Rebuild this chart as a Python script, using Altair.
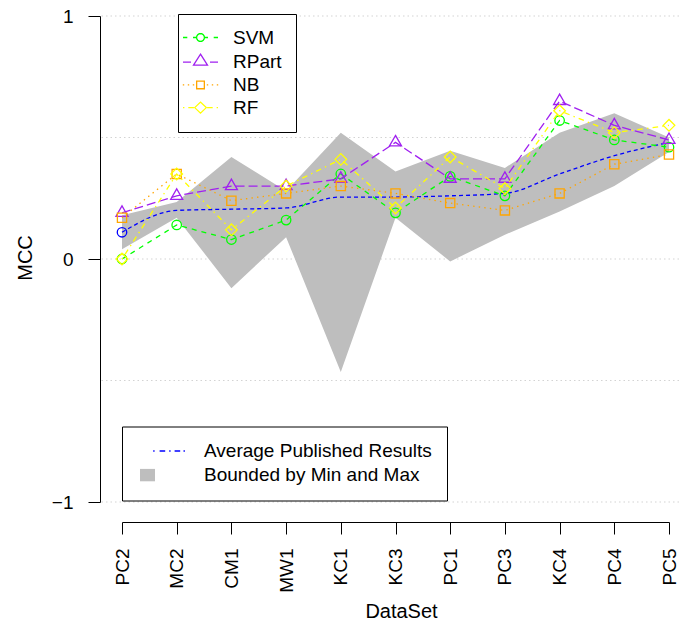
import math
import altair as alt
import pandas as pd

# ---------------- data ----------------
datasets = ["PC2", "MC2", "CM1", "MW1", "KC1", "KC3", "PC1", "PC3", "KC4", "PC4", "PC5"]
svm = [0.00, 0.14, 0.08, 0.16, 0.35, 0.19, 0.34, 0.26, 0.57, 0.49, 0.46]
rpart = [0.19, 0.26, 0.30, 0.30, 0.33, 0.48, 0.33, 0.33, 0.65, 0.55, 0.49]
nb = [0.17, 0.35, 0.24, 0.27, 0.30, 0.27, 0.23, 0.20, 0.27, 0.39, 0.43]
rf = [0.00, 0.35, 0.12, 0.30, 0.41, 0.21, 0.42, 0.29, 0.61, 0.52, 0.55]
avg = [0.11, 0.20, 0.205, 0.21, 0.255, 0.255, 0.26, 0.27, 0.35, 0.425, 0.48]
band_min = [0.04, 0.17, -0.12, 0.09, -0.465, 0.17, -0.01, 0.10, 0.195, 0.30, 0.44]
band_max = [0.18, 0.235, 0.42, 0.28, 0.52, 0.36, 0.445, 0.375, 0.52, 0.60, 0.50]

models = ["SVM", "RPart", "NB", "RF"]
kinds = ["Average Published Results", "Bounded by Min and Max"]
y_ticks = [-1, 0, 1]
grid_values = [-1, -0.5, 0, 0.5, 1]

# ---------------- styles ----------------
FONT = "Liberation Sans"
model_colors = ["#00FF00", "#A020F0", "#FFA500", "#FFFF00"]
model_dashes = [[5, 5], [9, 4], [1.4, 4.2], [1.4, 4.2, 5.6, 4.2]]
TRI = "M0,-1.155L1,0.577L-1,0.577Z"
model_shapes = ["circle", TRI, "square", "diamond"]
model_sizes = [90, 144, 85, 135]
avg_color = "#0000FF"
band_color = "#BEBEBE"


# legend symbol drawings (pixel units around the symbol anchor, scaled by r)
def hseg(x0, x1, r, cx=0.0):
    return f"M{(x0 + cx) / r:.4f},0H{(x1 + cx) / r:.4f}"


def poly(pts, r, cx=0.0):
    return "M" + "L".join(f"{(x + cx) / r:.4f},{y / r:.4f}" for x, y in pts) + "Z"


def ring(rad, r, cx=0.0, n=24):
    return poly([(rad * math.cos(2 * math.pi * k / n), rad * math.sin(2 * math.pi * k / n)) for k in range(n)], r, cx)


def rect(x0, x1, y0, y1, r, cx=0.0):
    return poly([(x0, y0), (x1, y0), (x1, y1), (x0, y1)], r, cx)


SYM_R = 8.0          # custom symbol scale (px per unit)
SYM_SIZE = (2 * SYM_R) ** 2
TC = -1.0            # horizontal shift of top-legend drawings
top_paths = [
    hseg(-17.5, -13.2, SYM_R, TC) + hseg(-7.5, -4, SYM_R, TC) + hseg(4, 7.5, SYM_R, TC)
    + hseg(13.2, 17.5, SYM_R, TC) + ring(3.9, SYM_R, TC),
    hseg(-17.5, -9.5, SYM_R, TC) + hseg(9.5, 17.5, SYM_R, TC) + poly([(0, -8), (7, 3), (-7, 3)], SYM_R, TC),
    "".join(hseg(c - 0.7, c + 0.7, SYM_R, TC) for c in (-17, -12, -7, 7, 12, 17))
    + rect(-3.85, 3.85, -3.85, 3.85, SYM_R, TC),
    hseg(-17.5, -16.1, SYM_R, TC) + hseg(-12.2, -6.6, SYM_R, TC) + hseg(6.6, 12.2, SYM_R, TC)
    + hseg(16.1, 17.5, SYM_R, TC) + poly([(-5.8, 0), (0, -5.5), (5.8, 0), (0, 5.5)], SYM_R, TC),
]

bottom_paths = [
    "".join(rect(a, b, -0.7, 0.7, SYM_R) for a, b in [(6.7, 8.1), (13.1, 18.7), (22.7, 24.1), (28.1, 33.7), (37.0, 38.4)]),
    rect(-6.5, 8.5, -6.2, 6.2, SYM_R),
]

# ---------------- tables ----------------
idx = list(range(len(datasets)))
wide = pd.DataFrame({"i": idx, "dataset": datasets, "avg": avg, "lo": band_min, "hi": band_max})
series = dict(zip(models, [svm, rpart, nb, rf]))
long = pd.DataFrame(
    [{"i": i, "model": m, "mcc": v} for m in models for i, v in enumerate(series[m])]
)
grid_df = pd.DataFrame({"g": grid_values})
legend_models = pd.DataFrame({"model": models})
legend_kinds = pd.DataFrame({"kind": kinds})

labels_js = "[" + ",".join(f"'{d}'" for d in datasets) + "]"

xscale = alt.Scale(domain=[0, len(datasets) - 1], range=[22, 569], nice=False, zero=False)
xaxis = alt.Axis(
    values=idx, labelExpr=f"{labels_js}[datum.value]", labelAngle=-90, labelAlign="right",
    labelBaseline="middle", labelPadding=14, tickSize=12, offset=20, grid=False,
    labelFontSize=19, titleFontSize=20, titleX=301, titleY=95, titleAlign="center",
    titleBaseline="alphabetic", labelFlush=False, labelOverlap=False,
)
yscale = alt.Scale(domain=[-1, 1], nice=False, zero=False)
yaxis = alt.Axis(
    values=y_ticks, labelExpr="replace(format(datum.value, '.1f'), '.0', '')",
    tickSize=12, labelPadding=15, grid=False, labelFontSize=19,
    labelOverlap=False, labelFlush=False,
    titleFontSize=20, titleAngle=-90, titleX=-68.3, titleY=241.5, titleAlign="center",
    titleBaseline="alphabetic",
)


def X():
    return alt.X("i:Q", scale=xscale, axis=xaxis, title="DataSet")


def Y(field):
    return alt.Y(f"{field}:Q", scale=yscale, axis=yaxis, title="MCC")


layers = []

layers.append(
    alt.Chart(grid_df).mark_rule(color="#D3D3D3", strokeDash=[1.5, 3], strokeWidth=1).encode(y=Y("g"))
)

layers.append(
    alt.Chart(wide).mark_area(color=band_color, opacity=1, orient="vertical").encode(
        x=X(), y=Y("lo"), y2=alt.Y2("hi")
    )
)

layers.append(
    alt.Chart(wide).mark_line(color=avg_color, strokeWidth=1.3, strokeDash=[4, 3], interpolate="monotone").encode(
        x=X(), y=Y("avg")
    )
)
layers.append(
    alt.Chart(wide).transform_filter(alt.datum.i == 0).mark_point(
        shape="circle", size=90, filled=False, color=avg_color, strokeWidth=1.3, opacity=1
    ).encode(x=X(), y=Y("avg"))
)

for m, c, d, s, sz in zip(models, model_colors, model_dashes, model_shapes, model_sizes):
    layers.append(
        alt.Chart(long).transform_filter(alt.datum.model == m).mark_line(
            color=c, strokeDash=d, strokeWidth=1.3
        ).encode(x=X(), y=Y("mcc"), order="i:Q")
    )
    layers.append(
        alt.Chart(long).transform_filter(alt.datum.model == m).mark_point(
            shape=s, size=sz, filled=False, color=c, strokeWidth=1.3, opacity=1
        ).encode(x=X(), y=Y("mcc"))
    )

legend_common = dict(
    title=None, orient="none", direction="vertical", strokeColor="black", fillColor="white",
    symbolOpacity=1, labelFont=FONT, labelFontSize=19, labelColor="black", labelLimit=0,
    symbolSize=SYM_SIZE,
)
LT = alt.Legend(
    legendX=78, legendY=-2, padding=14, symbolStrokeWidth=1.3, rowPadding=2.7, labelOffset=22,
    **legend_common
)
LB = alt.Legend(
    legendX=22, legendY=410.5, padding=15, symbolStrokeWidth=0, rowPadding=4.1, labelOffset=48,
    **legend_common
)

layers.append(
    alt.Chart(legend_models).mark_point(opacity=0, filled=False, strokeWidth=1.3).encode(
        stroke=alt.Stroke("model:N", scale=alt.Scale(domain=models, range=model_colors), legend=LT),
        shape=alt.Shape("model:N", scale=alt.Scale(domain=models, range=top_paths), legend=LT),
    )
)
layers.append(
    alt.Chart(legend_kinds).mark_point(opacity=0, filled=True).encode(
        fill=alt.Fill("kind:N", scale=alt.Scale(domain=kinds, range=[avg_color, band_color]), legend=LB),
        shape=alt.Shape("kind:N", scale=alt.Scale(domain=kinds, range=bottom_paths), legend=LB),
    )
)

chart = (
    alt.layer(*layers)
    .resolve_scale(shape="independent", stroke="independent", fill="independent")
    .properties(
        width=579, height=486,
        padding={"left": 92, "top": 8, "right": 0, "bottom": 119},
        autosize=alt.AutoSizeParams(type="none"),
        background="white",
    )
    .configure_view(stroke=None)
    .configure_axis(
        labelFont=FONT, titleFont=FONT, domainColor="black", tickColor="black",
        labelColor="black", titleColor="black", titleFontWeight="normal",
        domainWidth=1, tickWidth=1,
    )
)

chart.save("out.html", embed_options={"renderer": "svg", "actions": False})
